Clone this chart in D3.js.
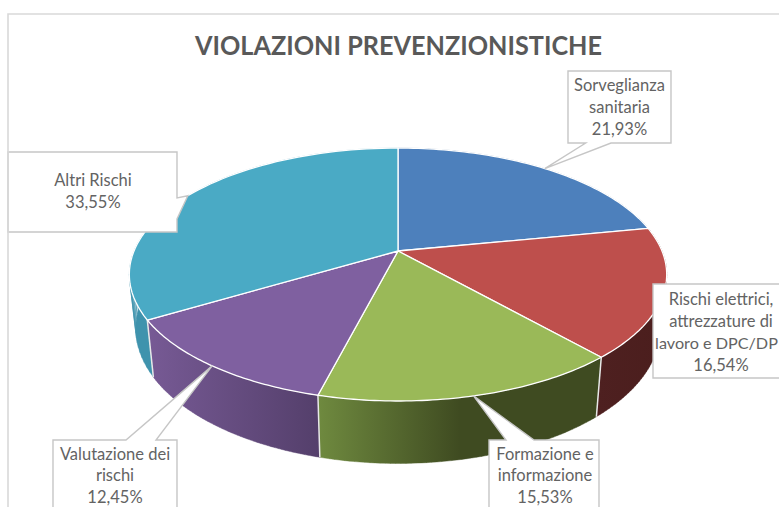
<!DOCTYPE html>
<html><head><meta charset="utf-8">
<script src="https://cdn.jsdelivr.net/npm/d3@7"></script>
<style>html,body{margin:0;padding:0;background:#fff;overflow:hidden}svg{display:block}</style>
</head><body><svg id="c" width="779" height="507"></svg>
<script>
const categories = ["Sorveglianza sanitaria","Rischi elettrici, attrezzature di lavoro e DPC/DP","Formazione e informazione","Valutazione dei rischi","Altri Rischi"];
const values = [21.93,16.54,15.53,12.45,33.55];
const valueLabels = ["21,93%","16,54%","15,53%","12,45%","33,55%"];
const labelLines = [["Sorveglianza","sanitaria"],["Rischi elettrici,","attrezzature di","lavoro e DPC/DP"],["Formazione e","informazione"],["Valutazione dei","rischi"],["Altri Rischi"]];
const topColors = ["#4d80bc","#be4f4c","#9ab958","#7f60a0","#4aaac5"];
const wallStops = [["#3a6190","#3a6190"],["#4e2020","#4b1e1d"],["#6f8a3f","#3f4b21"],["#775a95","#543f6b"],["#3f93ad","#3f93ad"]];
const wallSpan = [[0,1],[0,1],[0,.5],[0,1],[0,1]];
const boxes = [[568,71,671,143],[653,284,782,378],[489,440,599,512],[53,440,177,512],[8,152,177,232]];
const boxBase = [[585.7,611],null,[506,534],[126,156],[198,219]];
const lineCenter = [619.5,721,545,115,93];
const firstBaseline = [91,305,460,460,186];
const lineStep = [22,22,21.4,21.4,22];
const W=779,H=507;
const svg=d3.select("#c");
const defs=svg.append("defs");

// perspective projection of the pie plane
const cx=398,cy=251,B=264,A=122.1,p=-0.186;
const yScale=d3.scaleLinear().domain([-1,1]).range([-A,A]);
const xScale=d3.scaleLinear().domain([-1,1]).range([-B,B]);
function rimTop(t){const x=Math.sin(t),y=-Math.cos(t),d=1+p*y;return [cx+xScale(x)/d,cy+yScale(y)/d];}
function rimBot(t){const q=rimTop(t);return [cx+(q[0]-cx)*.976,cy+(q[1]-cy)*1.067+52.4];}
const arcs=d3.pie().sort(null).value(d=>d)(values);
const line=d3.line();
const samples=(a,b)=>d3.range(0,61).map(i=>a+(b-a)*i/60);

// walls: union of small quads between the two rims; back parts end up hidden under the top face
arcs.forEach((a,i)=>{
  const s=samples(a.startAngle,a.endAngle);
  const pts=s.map(rimTop).concat(s.map(rimBot));
  const xs=pts.map(d=>d[0]);
  const x0=d3.min(xs),x1=d3.max(xs);
  const g=defs.append("linearGradient").attr("id","w"+i).attr("gradientUnits","userSpaceOnUse")
    .attr("x1",x0).attr("x2",x0+(x1-x0)*wallSpan[i][1]).attr("y1",0).attr("y2",0);
  g.append("stop").attr("offset",0).attr("stop-color",wallStops[i][0]);
  g.append("stop").attr("offset",1).attr("stop-color",wallStops[i][1]);
  const d=d3.pairs(s).map(([u,v])=>line([rimTop(u),rimTop(v),rimBot(v),rimBot(u)])+"Z").join("");
  svg.append("path").attr("d",d).attr("fill",`url(#w${i})`).attr("stroke",`url(#w${i})`).attr("stroke-width",.4);
});
arcs.forEach(a=>{
  svg.append("path").attr("d",line([rimTop(a.startAngle),rimBot(a.startAngle)])).attr("stroke","#e8e8e8").attr("stroke-width",1.5).attr("fill","none");
});
// top faces
arcs.forEach((a,i)=>{
  const pts=[[cx,cy]].concat(samples(a.startAngle,a.endAngle).map(rimTop));
  svg.append("path").attr("d",line(pts)+"Z").attr("fill",topColors[i]).attr("stroke","#fff").attr("stroke-width",1.3).attr("stroke-linejoin","round");
});

// callouts
arcs.forEach((a,i)=>{
  const [x0,y0,x1,y1]=boxes[i];
  const mid=(a.startAngle+a.endAngle)/2, tip=rimTop(mid);
  let pts;
  if(i===0) pts=[[x0,y0],[x1,y0],[x1,y1],[boxBase[i][1],y1],tip,[boxBase[i][0],y1],[x0,y1]];
  else if(i===1) pts=[[x0,y0],[x1,y0],[x1,y1],[x0,y1]];
  else if(i===4) pts=[[x0,y0],[x1,y0],[x1,boxBase[i][0]],tip,[x1,boxBase[i][1]],[x1,y1],[x0,y1]];
  else pts=[[x0,y0],[boxBase[i][0],y0],tip,[boxBase[i][1],y0],[x1,y0],[x1,y1],[x0,y1]];
  svg.append("path").attr("d",line(pts)+"Z").attr("fill","#fff").attr("stroke","#c6c6c6").attr("stroke-width",1.4);
  const lines=labelLines[i].concat([valueLabels[i]]);
  const t=svg.append("text").attr("font-family","Lato, 'Open Sans', sans-serif").attr("font-size",16.5).attr("fill","#636363").attr("text-anchor","middle");
  lines.forEach((l,k)=>{
    const s=t.append("tspan").attr("x",lineCenter[i]).attr("y",firstBaseline[i]+k*lineStep[i]).text(l);
    if(l==="lavoro e DPC/DP") s.attr("x",lineCenter[i]-4.5).attr("font-size",16.2);
  });
});

// frame
svg.append("path").attr("d",line([[8,H],[8,14],[W,14]])).attr("fill","none").attr("stroke","#d9d9d9").attr("stroke-width",1.6);
svg.append("text").attr("x",398.5).attr("y",55).attr("text-anchor","middle").attr("font-family","Lato, sans-serif").attr("font-weight",700).attr("font-size",27).attr("textLength",407).attr("lengthAdjust","spacingAndGlyphs").attr("fill","#595959").text("VIOLAZIONI PREVENZIONISTICHE");
</script></body></html>
